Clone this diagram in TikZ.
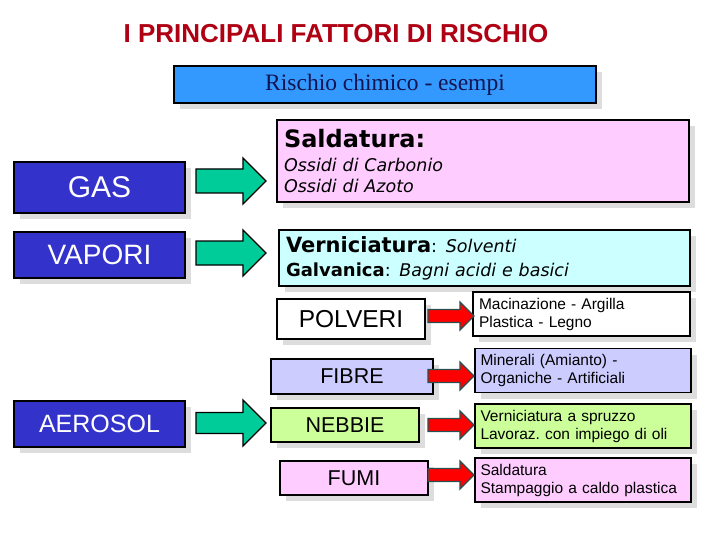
\documentclass[tikz,border=0pt]{standalone}
\usepackage{fontspec}
\setmainfont{Liberation Sans}
\newfontfamily\verdanaf{DejaVu Sans}
\newfontfamily\timesf{Liberation Serif}
\definecolor{titlered}{RGB}{175,0,20}
\definecolor{navy}{RGB}{20,20,80}
\definecolor{sky}{RGB}{51,153,255}
\definecolor{deepblue}{RGB}{51,51,204}
\definecolor{pinkish}{RGB}{255,204,255}
\definecolor{iceblue}{RGB}{204,255,255}
\definecolor{lavender}{RGB}{204,204,255}
\definecolor{lime}{RGB}{204,255,153}
\definecolor{teal}{RGB}{0,204,153}
\definecolor{slate}{RGB}{40,80,80}
\definecolor{shade}{RGB}{221,221,221}
\usetikzlibrary{shadows,calc}
\tikzset{
  box/.style={draw=black,line width=1.6pt,inner sep=0pt,
              drop shadow={shadow xshift=6pt,shadow yshift=-6pt,fill=shade,opacity=1}},
  kind/.style={box,fill=deepblue,text=white,minimum width=171pt},
  sub/.style={box,minimum width=148pt,font=\fontsize{21.5}{24}\selectfont},
  desc/.style={box,minimum width=217pt,minimum height=44pt,text width=205pt,align=left,
               font=\fontsize{15.5}{18}\selectfont},
  garr/.style={draw=black,line width=1.4pt,fill=teal,line join=miter},
  rarr/.style={draw=slate,line width=1.4pt,fill=red,line join=miter},
}
% block arrow: style, from, to, half shaft, half head
\newcommand{\fatarrow}[5]{%
  \draw[#1] let \p1=(#2), \p2=(#3) in
    (\x1,\y1+#4) -- (\x2-#5,\y1+#4) -- (\x2-#5,\y1+#5) -- (\x2,\y1)
    -- (\x2-#5,\y1-#5) -- (\x2-#5,\y1-#4) -- (\x1,\y1-#4) -- cycle;}

\begin{document}
\begin{tikzpicture}[x=1pt,y=-1pt]
  \path[fill=white,use as bounding box] (0,0) rectangle (720,540);

  \node[font=\fontsize{26}{30}\selectfont\bfseries,text=titlered] (title) at (336,34)
    {I PRINCIPALI FATTORI DI RISCHIO};
  \node[box,fill=sky,minimum width=422pt,minimum height=37pt,text=navy,
        font=\timesf\fontsize{23.5}{26}\selectfont] (head) at (385,84.5) {Rischio chimico - esempi};

  % gas and vapori
  \node[kind,minimum height=51pt,font=\fontsize{30}{32}\selectfont] (gas) at (99.5,187.5) {GAS};
  \node[kind,minimum height=46pt,font=\fontsize{28}{30}\selectfont] (vapori) at (99.5,255) {VAPORI};
  \node[box,fill=pinkish,minimum width=412pt,minimum height=82pt,text width=398pt,align=left,
        font=\verdanaf\fontsize{17.5}{21}\selectfont] (sald) at (483,161)
    {{\fontsize{24}{26}\selectfont\bfseries Saldatura:}\\[3pt]
     {\itshape Ossidi di Carbonio}\\ {\itshape Ossidi di Azoto}};
  \node[box,fill=iceblue,minimum width=411pt,minimum height=56pt,text width=397pt,align=left,
        font=\verdanaf\fontsize{17.5}{24}\selectfont] (verni) at (484.5,258)
    {{\fontsize{21}{24}\selectfont\bfseries Verniciatura}: {\itshape Solventi}\\
     {\fontsize{18}{24}\selectfont\bfseries Galvanica}: {\itshape Bagni acidi e basici}};

  % aerosol
  \node[kind,minimum height=46pt,font=\fontsize{25}{28}\selectfont] (aerosol) at (99.5,424) {AEROSOL};
  \node[sub,fill=white,minimum height=40pt,font=\fontsize{24.5}{27}\selectfont] (polveri) at (351,319) {POLVERI};
  \node[sub,fill=lavender,minimum width=162pt,minimum height=35pt] (fibre) at (352,376.5) {FIBRE};
  \node[sub,fill=lime,minimum height=34pt] (nebbie) at (345,425) {NEBBIE};
  \node[sub,fill=pinkish,minimum height=34pt] (fumi) at (354,478) {FUMI};

  \node[desc,fill=white] (pdesc) at (581.5,314) {Macinazione - Argilla\\Plastica - Legno};
  \node[desc,fill=lavender,minimum width=216pt] (fdesc) at (583,370.5) {Minerali (Amianto) -\\Organiche - Artificiali};
  \node[desc,fill=lime,minimum width=216pt] (ndesc) at (583,426) {Verniciatura a spruzzo\\Lavoraz.\ con impiego di oli};
  \node[desc,fill=pinkish,minimum width=216pt] (udesc) at (583,480) {Saldatura\\Stampaggio a caldo plastica};

  % arrows
  \coordinate (gasA) at (196,181);     \coordinate (gasB) at (266,181);
  \coordinate (vapA) at (196,253);     \coordinate (vapB) at (266,253);
  \coordinate (aerA) at (196,423);     \coordinate (aerB) at (266,423);
  \fatarrow{garr}{gasA}{gasB}{12pt}{23pt}
  \fatarrow{garr}{vapA}{vapB}{12pt}{23pt}
  \fatarrow{garr}{aerA}{aerB}{10.5pt}{23pt}
  \foreach \k/\y in {pol/316,fib/376,neb/425,fum/475}{
    \coordinate (\k A) at (428,\y);
    \coordinate (\k B) at (474,\y);
    \fatarrow{rarr}{\k A}{\k B}{6.5pt}{14pt}
  }
\end{tikzpicture}
\end{document}
